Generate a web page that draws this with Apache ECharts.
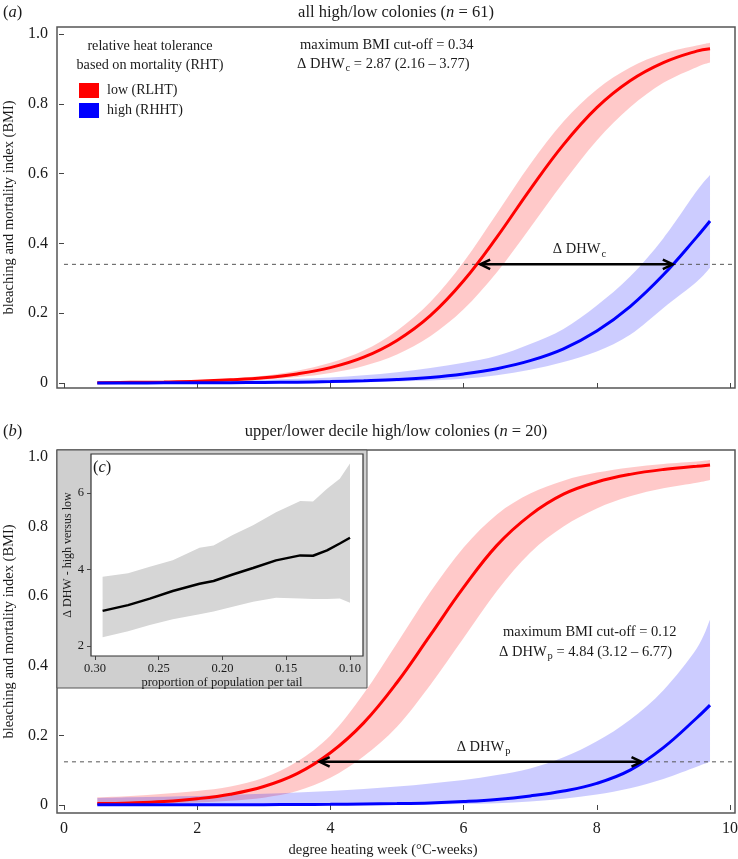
<!DOCTYPE html>
<html><head><meta charset="utf-8">
<script src="https://cdn.jsdelivr.net/npm/echarts@6/dist/echarts.min.js"></script>
<style>html,body{margin:0;padding:0;background:#fff}#c{width:738px;height:859px}</style>
</head><body><div id="c"></div>
<script>
// ---------- data ----------
const dhw = [0.5,1.0,1.5,2.0,2.5,3.0,3.5,4.0,4.5,5.0,5.5,6.0,6.5,7.0,7.5,8.0,8.5,9.0,9.5,9.7];

// panel (a): all high/low colonies
const aLowFit   = [0.001,0.002,0.003,0.005,0.009,0.015,0.026,0.044,0.074,0.122,0.193,0.293,0.418,0.555,0.683,0.789,0.866,0.918,0.951,0.958];
const aLowUpper = [0.002,0.003,0.005,0.008,0.013,0.021,0.035,0.058,0.093,0.150,0.232,0.347,0.486,0.627,0.749,0.841,0.904,0.944,0.967,0.975];
const aLowLower = [0.0005,0.001,0.002,0.003,0.006,0.010,0.017,0.029,0.049,0.082,0.134,0.211,0.317,0.445,0.575,0.695,0.790,0.860,0.905,0.918];
const aHighFit   = [0.0001,0.0002,0.0004,0.0006,0.001,0.0016,0.0025,0.004,0.0065,0.010,0.016,0.026,0.041,0.064,0.098,0.149,0.219,0.310,0.418,0.464];
const aHighUpper = [0.002,0.003,0.004,0.005,0.007,0.009,0.012,0.016,0.022,0.031,0.043,0.058,0.078,0.112,0.155,0.222,0.305,0.415,0.550,0.596];
const aHighLower = [0,0,0,0,0,0.0005,0.001,0.0015,0.002,0.004,0.007,0.012,0.022,0.038,0.060,0.090,0.138,0.215,0.290,0.330];
const aCutoff = 0.34;
const aArrow = [6.25, 9.14];

// panel (b): upper/lower decile high/low colonies
const bLowFit   = [0.004,0.006,0.010,0.018,0.031,0.053,0.090,0.150,0.236,0.352,0.488,0.625,0.746,0.833,0.893,0.928,0.950,0.964,0.973,0.977];
const bLowUpper = [0.022,0.026,0.032,0.040,0.053,0.078,0.125,0.200,0.320,0.465,0.612,0.740,0.835,0.895,0.932,0.955,0.970,0.980,0.987,0.991];
const bLowLower = [0.0,0.002,0.004,0.007,0.012,0.021,0.040,0.078,0.140,0.225,0.345,0.480,0.615,0.725,0.800,0.852,0.887,0.910,0.926,0.934];
const bHighFit   = [0.0005,0.0005,0.0005,0.0006,0.0008,0.001,0.0015,0.002,0.003,0.004,0.006,0.010,0.016,0.026,0.040,0.062,0.100,0.165,0.250,0.287];
const bHighUpper = [0.020,0.022,0.024,0.026,0.029,0.032,0.036,0.040,0.046,0.053,0.062,0.072,0.086,0.105,0.137,0.183,0.245,0.330,0.450,0.532];
const bHighLower = [0,0,0,0,0,0,0,0,0,0.001,0.002,0.003,0.005,0.010,0.018,0.030,0.048,0.075,0.110,0.124];
const bCutoff = 0.124;
const bArrow = [3.84, 8.67];

// inset (c): ΔDHW vs proportion of population per tail
const cProp  = [0.294,0.274,0.257,0.239,0.218,0.207,0.192,0.176,0.158,0.139,0.129,0.118,0.108,0.100];
const cDelta = [2.92,3.07,3.24,3.44,3.63,3.70,3.87,4.04,4.24,4.37,4.36,4.50,4.68,4.83];
const cUpper = [3.81,3.90,4.07,4.24,4.57,4.63,4.90,5.16,5.50,5.79,5.78,6.11,6.37,6.77];
const cLower = [2.23,2.39,2.55,2.70,2.83,2.90,3.03,3.16,3.26,3.24,3.23,3.23,3.24,3.13];

const xTicks = [0,2,4,6,8,10];
const yTicks = [0,0.2,0.4,0.6,0.8,1.0];
const cXTicks = [0.10,0.15,0.20,0.25,0.30];
const cYTicks = [2,4,6];

// ---------- styling ----------
const FONT = '"Liberation Serif","Times New Roman","DejaVu Serif",serif';
const INK = '#1a1a1a';
const RED = '#ff0000', BLUE = '#0000ff';
const PINK = 'rgba(255,0,0,0.21)', LAV = 'rgba(0,0,255,0.2)';

const pairs = (xs, ys) => xs.map((x, i) => [x, ys[i]]);

// Catmull-Rom segments through already-projected pixel points
function curveSeg(P, smooth) {
  let s = '';
  for (let i = 0; i < P.length - 1; i++) {
    const p0 = P[i - 1] || P[i], p1 = P[i], p2 = P[i + 1], p3 = P[i + 2] || P[i + 1];
    if (!smooth) { s += ' L' + p2[0].toFixed(2) + ' ' + p2[1].toFixed(2); continue; }
    const c1 = [p1[0] + (p2[0] - p0[0]) / 6, p1[1] + (p2[1] - p0[1]) / 6];
    const c2 = [p2[0] - (p3[0] - p1[0]) / 6, p2[1] - (p3[1] - p1[1]) / 6];
    s += ' C' + c1[0].toFixed(2) + ' ' + c1[1].toFixed(2) + ' ' + c2[0].toFixed(2) + ' ' + c2[1].toFixed(2) + ' ' + p2[0].toFixed(2) + ' ' + p2[1].toFixed(2);
  }
  return s;
}
function band(idx, xs, lo, up, color, z, smooth) {
  return {
    type: 'custom', xAxisIndex: idx, yAxisIndex: idx, data: xs.map((x, i) => [x, lo[i], up[i]]),
    encode: { x: 0, y: [1, 2] }, z, silent: true,
    renderItem: function (params, api) {
      if (params.dataIndexInside !== 0) return null;
      const n = params.dataInsideLength;
      const U = [], L = [];
      for (let i = 0; i < n; i++) {
        U.push(api.coord([api.value(0, i), api.value(2, i)]));
        L.push(api.coord([api.value(0, i), api.value(1, i)]));
      }
      L.reverse();
      const d = 'M' + U[0][0].toFixed(2) + ' ' + U[0][1].toFixed(2) + curveSeg(U, smooth) +
        ' L' + L[0][0].toFixed(2) + ' ' + L[0][1].toFixed(2) + curveSeg(L, smooth) + ' Z';
      return { type: 'path', shape: { pathData: d }, style: { fill: color, stroke: null } };
    }
  };
}
function fit(name, idx, xs, ys, color, w, z) {
  return { type: 'line', name, xAxisIndex: idx, yAxisIndex: idx, data: pairs(xs, ys), symbol: 'none',
    smooth: 0.4, lineStyle: { color, width: w }, itemStyle: { color }, silent: true, z };
}
function cut(idx, y, xmax) {
  return { type: 'line', xAxisIndex: idx, yAxisIndex: idx, data: [[0, y], [xmax, y]], symbol: 'none',
    lineStyle: { color: '#555', width: 1, type: [4, 4] }, silent: true, z: 3 };
}
function arrow(idx, ends, y, sub) {
  return {
    type: 'custom', xAxisIndex: idx, yAxisIndex: idx, data: [[ends[0], ends[1], y]],
    encode: { x: [0, 1], y: 2 }, z: 6, silent: true,
    renderItem: function (params, api) {
      const p1 = api.coord([api.value(0), api.value(2)]);
      const p2 = api.coord([api.value(1), api.value(2)]);
      const h = 11, a = Math.PI / 7, dx = h * Math.cos(a), dy = h * Math.sin(a);
      const st = { stroke: '#000', lineWidth: 2.5, fill: null };
      return { type: 'group', children: [
        { type: 'line', shape: { x1: p1[0], y1: p1[1], x2: p2[0], y2: p2[1] }, style: st },
        { type: 'polyline', shape: { points: [[p1[0] + dx, p1[1] - dy], p1, [p1[0] + dx, p1[1] + dy]] }, style: st },
        { type: 'polyline', shape: { points: [[p2[0] - dx, p2[1] - dy], p2, [p2[0] - dx, p2[1] + dy]] }, style: st },
        { type: 'text', x: (p1[0] + p2[0]) / 2 + 3, y: p1[1] - 5,
          style: { text: '{n|Δ DHW}{s|' + sub + '}', align: 'center', verticalAlign: 'bottom', fill: INK,
            rich: { n: { fontSize: 14.5, fontFamily: FONT, fill: INK }, s: { fontSize: 10.5, fontFamily: FONT, fill: INK, padding: [9, 0, 0, 1] } } } }
      ] };
    }
  };
}

const yFmt = v => (v === 0 ? '0' : v.toFixed(1));
const axisFont = { fontFamily: FONT, fontSize: 16, color: INK };

function mainX(gridIndex, labels) {
  return { type: 'value', gridIndex, min: -0.105, max: 10.075,
    axisLine: { show: false }, splitLine: { show: false },
    axisTick: { show: true, inside: false, length: 5, customValues: xTicks, lineStyle: { color: '#444' } },
    axisLabel: { show: labels, customValues: xTicks, margin: 8, ...axisFont },
    name: labels ? 'degree heating week (°C-weeks)' : '', nameLocation: 'middle', nameGap: 30,
    nameTextStyle: { fontFamily: FONT, fontSize: 14.5, color: INK, padding: [0, 26, 0, 0] } };
}
function mainY(gridIndex, min) {
  return { type: 'value', gridIndex, min, max: 1.020,
    axisLine: { show: false }, splitLine: { show: false },
    axisTick: { show: true, inside: false, length: 5, customValues: yTicks, lineStyle: { color: '#444' } },
    axisLabel: { customValues: yTicks, formatter: yFmt, margin: 9, ...axisFont },
    name: 'bleaching and mortality index (BMI)', nameLocation: 'middle', nameGap: 39, nameRotate: 90,
    nameTextStyle: { fontFamily: FONT, fontSize: 14.5, color: INK } };
}

const rich = {
  r: { fontFamily: FONT, fontSize: 16.5, fill: INK },
  i: { fontFamily: FONT, fontSize: 16.5, fill: INK, fontStyle: 'italic' }
};
const txt = (x, y, text, align, size, z) => ({
  type: 'text', x, y, z: z || 20, silent: true,
  style: { text, align, verticalAlign: 'middle', fontFamily: FONT, fontSize: size, fill: INK }
});
const sub = { n: { fontFamily: FONT, fontSize: 14.5, fill: INK }, s: { fontFamily: FONT, fontSize: 10.5, fill: INK, padding: [9, 0, 0, 1] } };

const option = {
  animation: false,
  backgroundColor: '#fff',
  grid: [
    { left: 57, top: 27, width: 678, height: 361, show: true, borderColor: '#555', borderWidth: 1.5, backgroundColor: 'transparent', z: 0, outerBoundsMode: 'none', containLabel: false },
    { left: 57, top: 450, width: 678, height: 363, show: true, borderColor: '#555', borderWidth: 1.5, backgroundColor: 'transparent', z: 0, outerBoundsMode: 'none', containLabel: false },
    { left: 91, top: 454, width: 272, height: 202, show: true, borderColor: '#333', borderWidth: 1.2, backgroundColor: '#fff', z: 11, outerBoundsMode: 'none', containLabel: false }
  ],
  xAxis: [
    mainX(0, false),
    mainX(1, true),
    { type: 'value', gridIndex: 2, min: 0.0898, max: 0.3031, inverse: true, z: 12,
      axisLine: { show: false }, splitLine: { show: false },
      axisTick: { show: true, inside: false, length: 4, customValues: cXTicks, lineStyle: { color: '#444' } },
      axisLabel: { customValues: cXTicks, formatter: v => v.toFixed(2), margin: 6, fontFamily: FONT, fontSize: 12.5, color: INK },
      name: 'proportion of population per tail', nameLocation: 'middle', nameGap: 20,
      nameTextStyle: { fontFamily: FONT, fontSize: 12.5, color: INK, padding: [0, 10, 0, 0] } }
  ],
  yAxis: [
    mainY(0, -0.0143),
    mainY(1, -0.023),
    { type: 'value', gridIndex: 2, min: 1.74, max: 7.02, z: 12,
      axisLine: { show: false }, splitLine: { show: false },
      axisTick: { show: true, inside: false, length: 4, customValues: cYTicks, lineStyle: { color: '#444' } },
      axisLabel: { customValues: cYTicks, margin: 7, fontFamily: FONT, fontSize: 12.5, color: INK },
      name: 'Δ DHW - high versus low', nameLocation: 'middle', nameGap: 14, nameRotate: 90,
      nameTextStyle: { fontFamily: FONT, fontSize: 12, color: INK } }
  ],
  legend: {
    data: ['low (RLHT)', 'high (RHHT)'], orient: 'vertical', left: 79, top: 83, itemWidth: 20, itemHeight: 15,
    itemGap: 5, icon: 'rect', selectedMode: false, padding: 0,
    textStyle: { fontFamily: FONT, fontSize: 14, color: INK, padding: [0, 0, 0, 3] }
  },
  series: [
    band(0, dhw, aLowLower, aLowUpper, PINK, 2, true),
    band(0, dhw, aHighLower, aHighUpper, LAV, 2, true),
    cut(0, aCutoff, 10.075),
    fit('low (RLHT)', 0, dhw, aLowFit, RED, 3, 4),
    fit('high (RHHT)', 0, dhw, aHighFit, BLUE, 3, 4),
    arrow(0, aArrow, aCutoff, 'c'),

    band(1, dhw, bLowLower, bLowUpper, PINK, 2, true),
    band(1, dhw, bHighLower, bHighUpper, LAV, 2, true),
    cut(1, bCutoff, 10.075),
    fit('low (RLHT)', 1, dhw, bLowFit, RED, 3, 4),
    fit('high (RHHT)', 1, dhw, bHighFit, BLUE, 3, 4),
    arrow(1, bArrow, bCutoff, 'p'),

    band(2, cProp, cLower, cUpper, '#d6d6d6', 13, false),
    { type: 'line', xAxisIndex: 2, yAxisIndex: 2, data: pairs(cProp, cDelta), symbol: 'none',
      lineStyle: { color: '#000', width: 2.5 }, silent: true, z: 14 }
  ],
  graphic: { elements: [
    { type: 'text', x: 3, y: 13, z: 20, style: { text: '{r|(}{i|a}{r|)}', rich, align: 'left', verticalAlign: 'middle' } },
    { type: 'text', x: 396, y: 13, z: 20, style: { text: '{r|all high/low colonies (}{i|n}{r| = 61)}', rich, align: 'center', verticalAlign: 'middle' } },
    txt(150, 46, 'relative heat tolerance', 'center', 14.2),
    txt(150, 65, 'based on mortality (RHT)', 'center', 14.2),
    txt(300, 45, 'maximum BMI cut-off = 0.34', 'left', 14.5),
    { type: 'text', x: 297, y: 64, z: 20, style: { text: '{n|Δ DHW}{s|c}{n| = 2.87 (2.16 – 3.77)}', rich: sub, align: 'left', verticalAlign: 'middle' } },

    { type: 'text', x: 3, y: 432, z: 20, style: { text: '{r|(}{i|b}{r|)}', rich, align: 'left', verticalAlign: 'middle' } },
    { type: 'text', x: 396, y: 432, z: 20, style: { text: '{r|upper/lower decile high/low colonies (}{i|n}{r| = 20)}', rich, align: 'center', verticalAlign: 'middle' } },
    txt(503, 632, 'maximum BMI cut-off = 0.12', 'left', 14.5),
    { type: 'text', x: 499, y: 652, z: 20, style: { text: '{n|Δ DHW}{s|p}{n| = 4.84 (3.12 – 6.77)}', rich: sub, align: 'left', verticalAlign: 'middle' } },

    { type: 'rect', z: 10, silent: true, shape: { x: 57, y: 450, width: 310, height: 238 }, style: { fill: '#cfcfcf', stroke: '#555', lineWidth: 1 } },
    { type: 'text', x: 93, y: 468, z: 20, style: { text: '{r|(}{i|c}{r|)}', rich, align: 'left', verticalAlign: 'middle' } }
  ] }
};

const chart = echarts.init(document.getElementById('c'), null, { renderer: 'canvas' });
chart.setOption(option);
</script>
</body></html>
